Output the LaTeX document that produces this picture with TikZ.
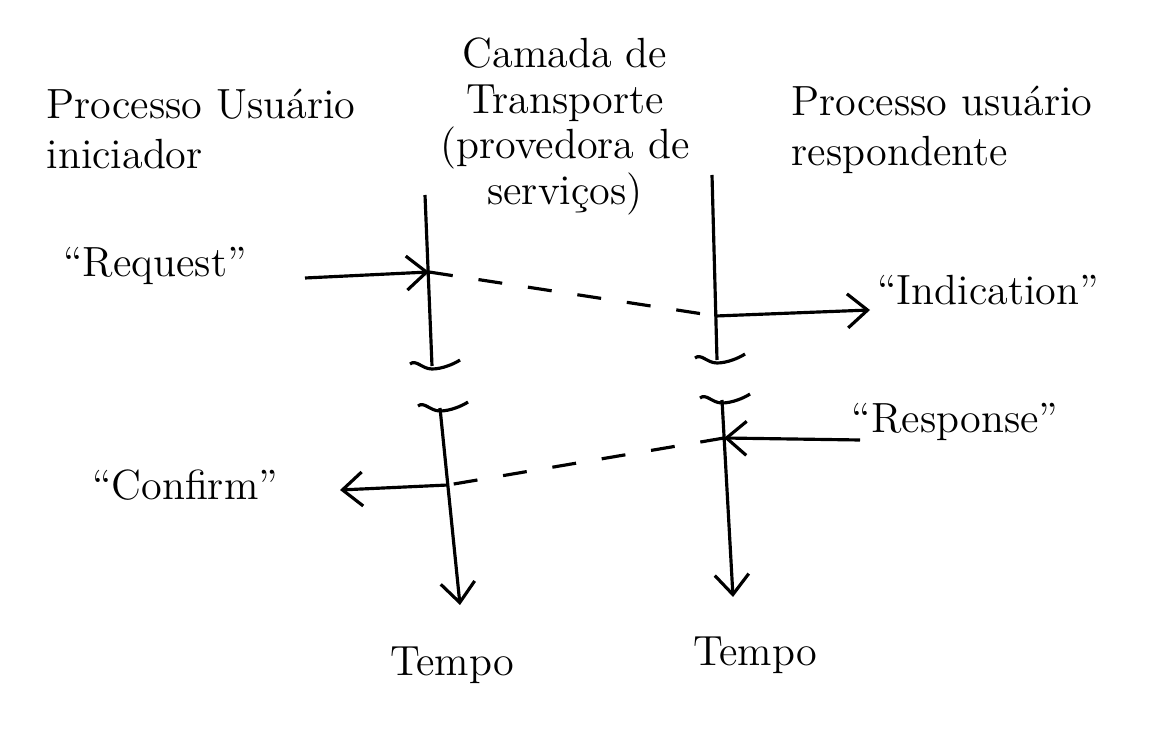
\documentclass[tikz,border=0pt]{standalone}
\usetikzlibrary{arrows.meta}

\begin{document}
\begin{tikzpicture}[
            x=0.01cm, y=-0.01cm,
            line width=0.9pt,
            lbl/.style={
                font=\large,
                inner sep=0pt
            },
            msg/.style={
                -{Straight Barb[length=2mm,width=3.4mm]}
            },
            link/.style={
                dash pattern=on 2.4mm off 2.6mm
            }
        ]
            \useasboundingbox (0,0) rectangle (1170,731);

            % titles
            \node[lbl, anchor=north west, align=left] (iniciador) at (45,88) {Processo Usuário\\iniciador};
            \node[lbl, anchor=north, align=center] (camada) at (565,36) {Camada de\\[-1pt]Transporte\\[-1pt](provedora de\\[-1pt]serviços)};
            \node[lbl, anchor=north west, align=left] (respondente) at (790,85) {Processo usuário\\respondente};

            % lifelines
            \coordinate (a1) at (425,195);
            \coordinate (a2) at (432,366);
            \coordinate (a3) at (440,408);
            \coordinate (a4) at (460,605);
            \coordinate (b1) at (712,175);
            \coordinate (b2) at (717,360);
            \coordinate (b3) at (722,400);
            \coordinate (b4) at (733,597);
            \draw (a1) -- (a2);
            \draw[msg] (a3) -- (a4);
            \draw (b1) -- (b2);
            \draw[msg] (b3) -- (b4);

            % breaks
            \foreach \p in {a2,a3,b2,b3} {
                \draw (\p) ++(-22,-2) .. controls +(6,-5) and +(-10,0) .. ++(22,5)
                    .. controls +(10,0) and +(-6,4) .. ++(28,-9);
            }

            % primitives
            \node[lbl] (request) at (155,266) {“Request”};
            \node[lbl] (indication) at (988,290) {“Indication”};
            \node[lbl] (response) at (955,422) {“Response”};
            \node[lbl] (confirm) at (185,485) {“Confirm”};
            \node[lbl] (tempoA) at (452,665) {Tempo};
            \node[lbl] (tempoB) at (755,655) {Tempo};

            \coordinate (rqs) at (305,278);
            \coordinate (rq) at (429,272);
            \coordinate (in) at (716,316);
            \coordinate (ine) at (870,310);
            \coordinate (rss) at (860,440);
            \coordinate (rs) at (724,438);
            \coordinate (cf) at (448,485);
            \coordinate (cfe) at (340,490);

            \draw[msg] (rqs) -- (rq);
            \draw[link] (rq) -- (in);
            \draw[msg] (in) -- (ine);
            \draw[msg] (rss) -- (rs);
            \draw[link] (rs) -- (cf);
            \draw[msg] (cf) -- (cfe);
        \end{tikzpicture}
\end{document}
